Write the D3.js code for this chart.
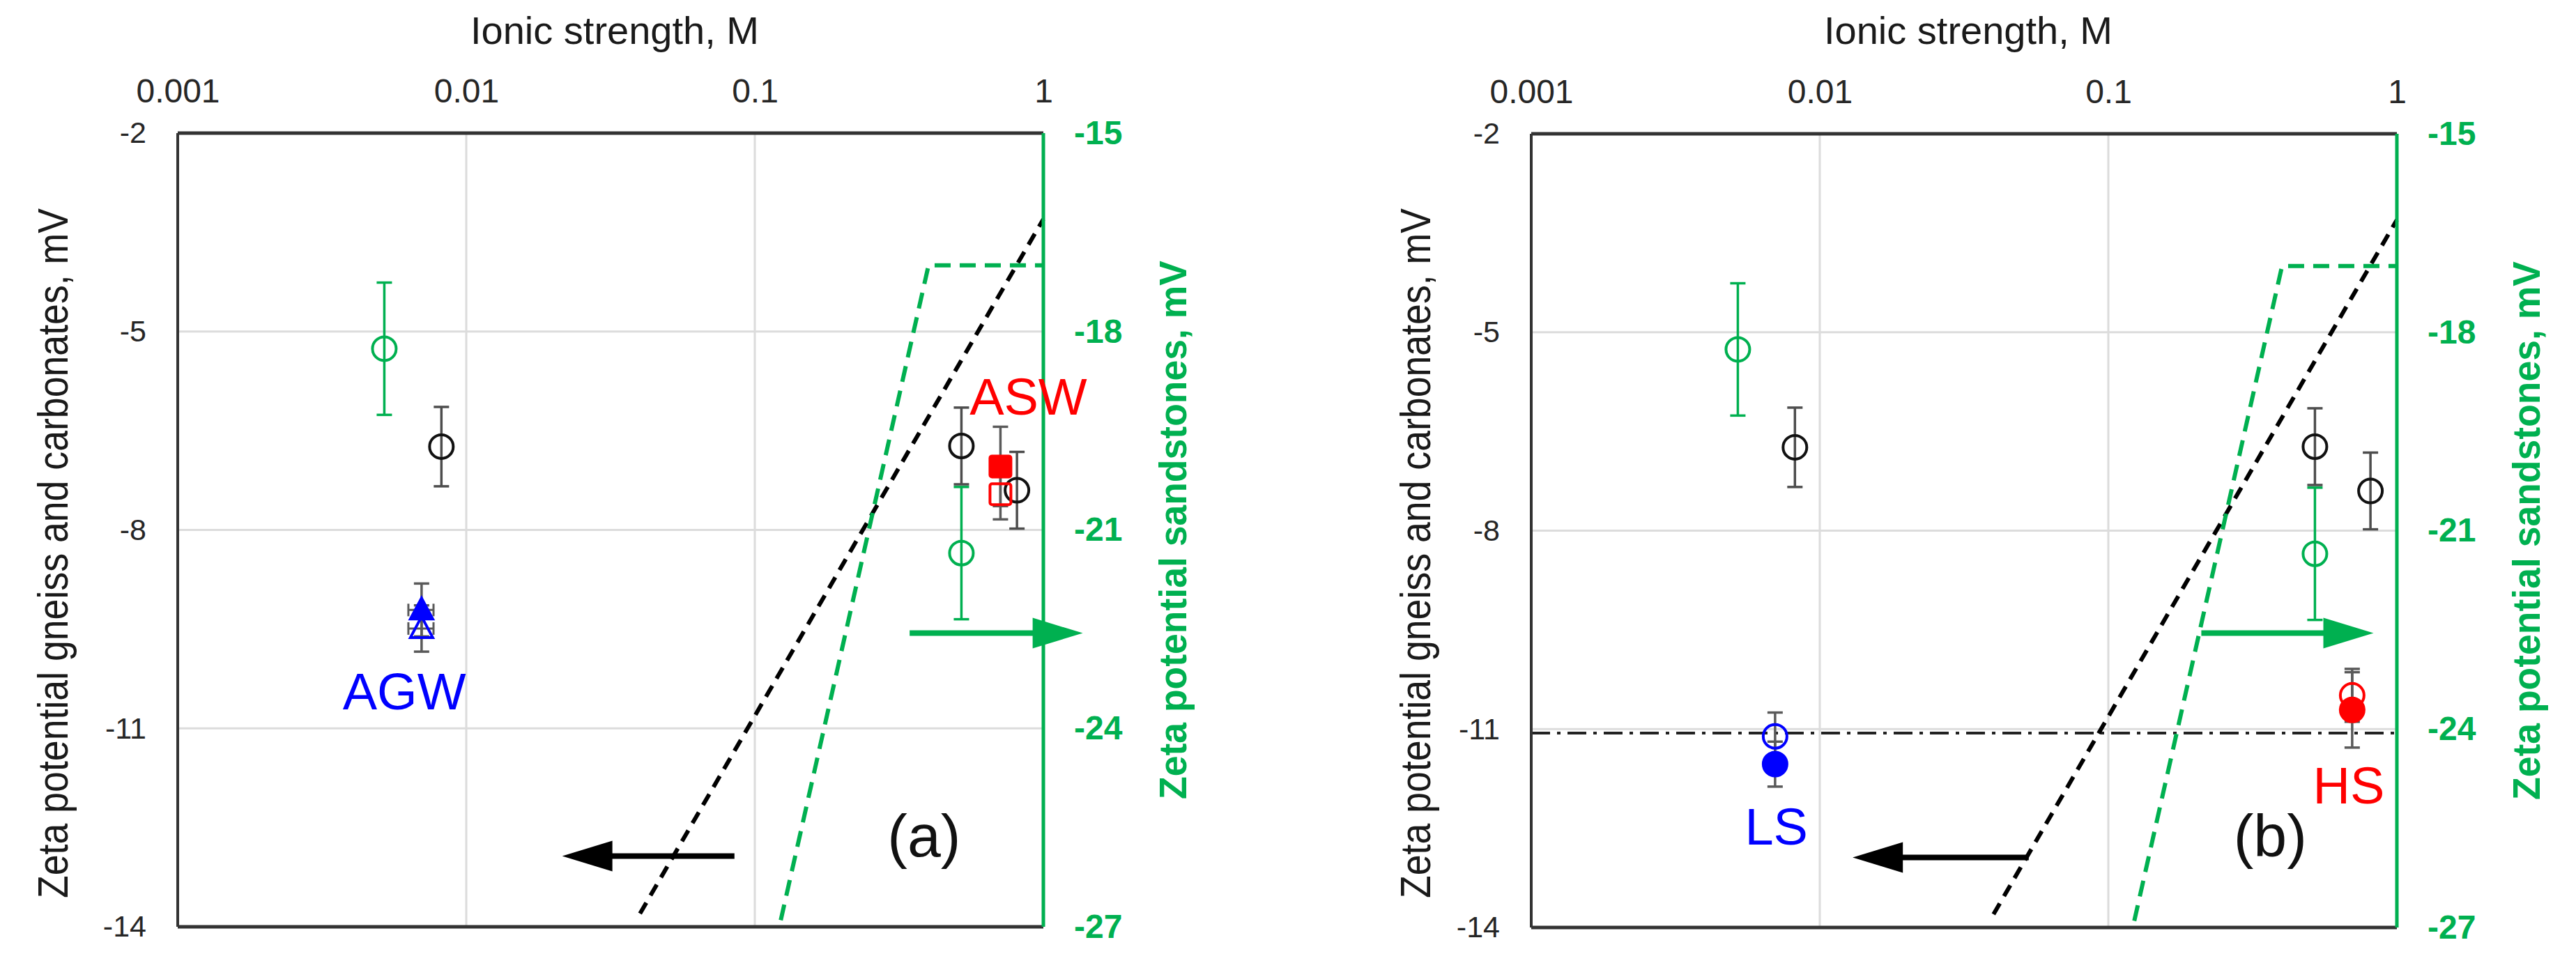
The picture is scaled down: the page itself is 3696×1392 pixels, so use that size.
<!DOCTYPE html>
<html>
<head>
<meta charset="utf-8">
<style>
body{margin:0;background:#fff;}
svg{display:block;font-family:"Liberation Sans",Arial,sans-serif;}
</style>
</head>
<body>
<svg id="graph" width="3696" height="1392"></svg>
<script src="https://d3js.org/d3.v7.min.js"></script>
<script>
// axis ticks
var ionTicks = [0.001, 0.01, 0.1, 1];
var leftTicks = [-2, -5, -8, -11, -14];
var rightTicks = [-15, -18, -21, -24, -27];

// sandstones (right axis)
var sandI = [0.0052, 0.52];
var sandZ = [-18.26, -21.35];
var sandErr = [1.0, 1.0];

// gneiss and carbonates (left axis)
var rockI = [0.0082, 0.52, 0.81];
var rockZ = [-6.74, -6.73, -7.40];
var rockErr = [0.6, 0.58, 0.58];

// panel (a) brines
var agwI = [0.007, 0.007];
var agwZ = [-9.21, -9.49];
var agwErr = [0.4, 0.35];
var agwIErr = 0.0007;
var aswI = [0.71, 0.71];
var aswZ = [-7.04, -7.46];
var aswErr = [0.6, 0.38];

// panel (b) brines
var lsI = [0.007, 0.007];
var lsZ = [-11.11, -11.53];
var lsErr = [0.36, 0.34];
var hsI = [0.70, 0.70];
var hsZ = [-10.49, -10.71];
var hsErr = [0.4, 0.57];
var formationZ = -11.06;

// model lines
var rockModelI = [0.04, 1];
var rockModelZ = [-13.8, -3.3];
var sandModelI = [0.123, 0.4, 1];
var sandModelZ = [-26.9, -17, -17];

var GREEN = '#00b050', RED = '#ff0000', BLUE = '#0000ff';
var W = 1242, H = 1139;

var svg = d3.select('#graph');

function drawPanel(cfg){
	var g = svg.append('g').attr('transform','translate('+cfg.x0+','+cfg.y0+')');
	var x = d3.scaleLog().domain([0.001,1]).range([0,W]);
	var y = d3.scaleLinear().domain([-14,-2]).range([H,0]);
	var yR = d3.scaleLinear().domain([-27,-15]).range([H,0]);
	var fmt = function(d){return String(d);};

	// grid
	g.append('g').selectAll('line').data(leftTicks.slice(1,-1)).enter().append('line')
		.attr('x1',0).attr('x2',W)
		.attr('y1',function(d){return y(d);}).attr('y2',function(d){return y(d);})
		.attr('stroke','#dcdcdc').attr('stroke-width',3);
	g.append('g').selectAll('line').data(ionTicks.slice(1,-1)).enter().append('line')
		.attr('y1',0).attr('y2',H)
		.attr('x1',function(d){return x(d);}).attr('x2',function(d){return x(d);})
		.attr('stroke','#dcdcdc').attr('stroke-width',3);

	// axes
	var xa = g.append('g').call(d3.axisTop(x).tickValues(ionTicks).tickSize(0).tickPadding(44).tickFormat(fmt));
	xa.select('.domain').remove();
	xa.selectAll('text').attr('font-size',48).attr('fill','#262626').attr('font-family','"Liberation Sans",Arial');

	var ya = g.append('g').call(d3.axisLeft(y).tickValues(leftTicks).tickSize(0).tickPadding(45).tickFormat(fmt));
	ya.select('.domain').remove();
	ya.selectAll('text').attr('font-size',43).attr('fill','#262626').attr('font-family','"Liberation Sans",Arial');

	var yb = g.append('g').attr('transform','translate('+W+',0)')
		.call(d3.axisRight(yR).tickValues(rightTicks).tickSize(0).tickPadding(44).tickFormat(fmt));
	yb.select('.domain').remove();
	yb.selectAll('text').attr('font-size',48).attr('font-weight','bold').attr('fill',GREEN).attr('font-family','"Liberation Sans",Arial');

	// titles
	g.append('text').attr('x',W/2+6).attr('y',63-cfg.y0).attr('text-anchor','middle')
		.attr('font-size',56).attr('fill','#1a1a1a').text('Ionic strength, M');
	g.append('text').attr('transform','translate('+cfg.leftLab+','+(794-cfg.y0)+') rotate(-90)')
		.attr('text-anchor','middle').attr('font-size',62).attr('fill','#1a1a1a')
		.attr('textLength',990).attr('lengthAdjust','spacingAndGlyphs')
		.text('Zeta potential gneiss and carbonates, mV');
	g.append('text').attr('transform','translate('+(W+205)+','+(H/2)+') rotate(-90)')
		.attr('text-anchor','middle').attr('font-size',56).attr('font-weight','bold').attr('fill',GREEN)
		.attr('textLength',773).attr('lengthAdjust','spacingAndGlyphs')
		.text('Zeta potential sandstones, mV');

	// model lines
	var line = d3.line().x(function(d){return x(d[0]);});
	if(cfg.formation){
		g.append('line').attr('x1',0).attr('x2',W)
			.attr('y1',y(formationZ)).attr('y2',y(formationZ))
			.attr('stroke','#222').attr('stroke-width',4).attr('stroke-dasharray','27,10,5,10');
	}
	g.append('path').datum(d3.zip(rockModelI,rockModelZ))
		.attr('d',line.y(function(d){return y(d[1]);}))
		.attr('fill','none').attr('stroke','#000').attr('stroke-width',6).attr('stroke-dasharray','18,12');
	g.append('path').datum(d3.zip(sandModelI,sandModelZ))
		.attr('d',line.y(function(d){return yR(d[1]);}))
		.attr('fill','none').attr('stroke',GREEN).attr('stroke-width',6).attr('stroke-dasharray','23,13');

	// arrows
	function arrow(i0,i1,z,sc,col){
		var xt = x(i0), xh = x(i1), yy = sc(z);
		var dir = xh > xt ? 1 : -1;
		g.append('line').attr('x1',xt).attr('x2',xh-dir*60).attr('y1',yy).attr('y2',yy)
			.attr('stroke',col).attr('stroke-width',8);
		g.append('path').attr('d','M'+xh+','+yy+'L'+(xh-dir*72)+','+(yy-22)+'L'+(xh-dir*72)+','+(yy+22)+'Z')
			.attr('fill',col);
	}
	arrow(cfg.blackArrow[0],cfg.blackArrow[1],cfg.blackArrow[2],y,'#000');
	arrow(cfg.greenArrow[0],cfg.greenArrow[1],cfg.greenArrow[2],yR,GREEN);

	// error bars
	function errBar(I,lo,hi,col){
		var xx = x(I);
		g.append('line').attr('x1',xx).attr('x2',xx).attr('y1',lo).attr('y2',hi)
			.attr('stroke',col).attr('stroke-width',3.5);
		[lo,hi].forEach(function(v){
			g.append('line').attr('x1',xx-11).attr('x2',xx+11).attr('y1',v).attr('y2',v)
				.attr('stroke',col).attr('stroke-width',3.5);
		});
	}
	sandI.forEach(function(I,i){ errBar(I,yR(sandZ[i]-sandErr[i]),yR(sandZ[i]+sandErr[i]),GREEN); });
	rockI.forEach(function(I,i){ errBar(I,y(rockZ[i]-rockErr[i]),y(rockZ[i]+rockErr[i]),'#4d4d4d'); });

	// markers
	g.append('g').selectAll('circle').data(d3.range(sandI.length)).enter().append('circle')
		.attr('cx',function(i){return x(sandI[i]);}).attr('cy',function(i){return yR(sandZ[i]);})
		.attr('r',17).attr('fill','none').attr('stroke',GREEN).attr('stroke-width',4);
	g.append('g').selectAll('circle').data(d3.range(rockI.length)).enter().append('circle')
		.attr('cx',function(i){return x(rockI[i]);}).attr('cy',function(i){return y(rockZ[i]);})
		.attr('r',17).attr('fill','none').attr('stroke','#111').attr('stroke-width',4);

	cfg.extra(g,x,y,errBar);

	// frame
	g.append('line').attr('x1',0).attr('x2',W).attr('y1',0).attr('y2',0).attr('stroke','#333').attr('stroke-width',5);
	g.append('line').attr('x1',0).attr('x2',W).attr('y1',H).attr('y2',H).attr('stroke','#333').attr('stroke-width',5);
	g.append('line').attr('x1',0).attr('x2',0).attr('y1',0).attr('y2',H).attr('stroke','#333').attr('stroke-width',4);
	g.append('line').attr('x1',W).attr('x2',W).attr('y1',0).attr('y2',H).attr('stroke',GREEN).attr('stroke-width',5);

	// labels
	cfg.labels.forEach(function(l){
		g.append('text').attr('x',x(l.I)).attr('y',y(l.z)).attr('text-anchor',l.anchor||'middle')
			.attr('font-size',l.size).attr('fill',l.col).text(l.t);
	});
}

drawPanel({
	x0:255, y0:191, leftLab:-158,
	blackArrow:[0.085,0.0215,-12.93],
	greenArrow:[0.344,1.37,-22.56],
	labels:[
		{t:'ASW',I:0.555,z:-6.26,size:74,col:RED,anchor:'start'},
		{t:'AGW',I:0.0061,z:-10.71,size:74,col:BLUE},
		{t:'(a)',I:0.386,z:-12.94,size:86,col:'#111'}
	],
	extra:function(g,x,y,errBar){
		// AGW triangles with ionic strength error bars
		agwI.forEach(function(I,i){
			errBar(I,y(agwZ[i]-agwErr[i]),y(agwZ[i]+agwErr[i]),'#5a5a5a');
			var yy = y(agwZ[i]), xl = x(I-agwIErr), xr = x(I+agwIErr);
			g.append('line').attr('x1',xl).attr('x2',xr).attr('y1',yy).attr('y2',yy).attr('stroke','#5a5a5a').attr('stroke-width',3);
			[xl,xr].forEach(function(v){
				g.append('line').attr('x1',v).attr('x2',v).attr('y1',yy-9).attr('y2',yy+9).attr('stroke','#5a5a5a').attr('stroke-width',3);
			});
		});
		agwI.forEach(function(I,i){
			var cx = x(I), cy = y(agwZ[i]);
			g.append('path').attr('d','M'+cx+','+(cy-17)+'L'+(cx+16)+','+(cy+13)+'L'+(cx-16)+','+(cy+13)+'Z')
				.attr('fill',i===0?BLUE:'none').attr('stroke',BLUE).attr('stroke-width',4);
		});
		// ASW squares
		aswI.forEach(function(I,i){ errBar(I,y(aswZ[i]-aswErr[i]),y(aswZ[i]+aswErr[i]),'#5a5a5a'); });
		aswI.forEach(function(I,i){
			g.append('rect').attr('x',x(I)-15).attr('y',y(aswZ[i])-15).attr('width',30).attr('height',30)
				.attr('rx',3).attr('fill',i===0?RED:'none').attr('stroke',RED).attr('stroke-width',4);
		});
	}
});

drawPanel({
	x0:2197, y0:192, leftLab:-145, formation:true,
	blackArrow:[0.053,0.013,-12.94],
	greenArrow:[0.21,0.83,-22.55],
	labels:[
		{t:'LS',I:0.00707,z:-12.75,size:74,col:BLUE},
		{t:'HS',I:0.681,z:-12.12,size:74,col:RED},
		{t:'(b)',I:0.364,z:-12.93,size:86,col:'#111'}
	],
	extra:function(g,x,y,errBar){
		lsI.forEach(function(I,i){ errBar(I,y(lsZ[i]-lsErr[i]),y(lsZ[i]+lsErr[i]),'#5a5a5a'); });
		hsI.forEach(function(I,i){ errBar(I,y(hsZ[i]-hsErr[i]),y(hsZ[i]+hsErr[i]),'#5a5a5a'); });
		[[lsI,lsZ,BLUE],[hsI,hsZ,RED]].forEach(function(s){
			s[0].forEach(function(I,i){
				g.append('circle').attr('cx',x(I)).attr('cy',y(s[1][i])).attr('r',17)
					.attr('fill',i===0?'none':s[2]).attr('stroke',s[2]).attr('stroke-width',4);
			});
		});
	}
});
</script>
</body>
</html>
